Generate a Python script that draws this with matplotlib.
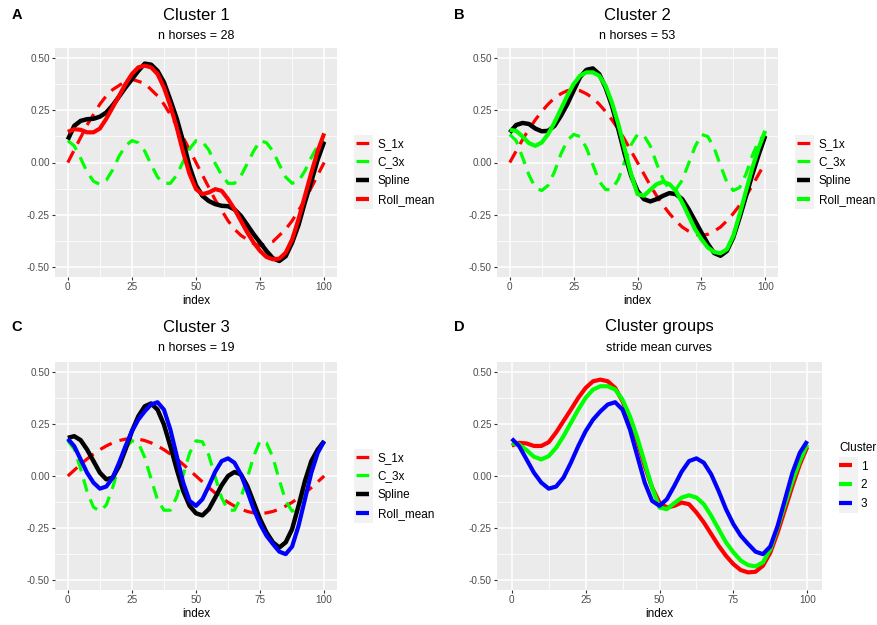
"Stride curves per cluster, 2x2 ggplot-like grid"

import numpy             as np
import matplotlib
matplotlib.use('Agg')
import matplotlib.pyplot as plt
from matplotlib.patches import Rectangle

plt.rcParams['font.family'] = ['Liberation Sans', 'DejaVu Sans']

# index positions (step 2.5)
idx = np.arange(0, 100.01, 2.5)

# ---- Cluster 1 ----
s1x_c1 = [0.00, 0.06, 0.12, 0.18, 0.23, 0.28, 0.32, 0.35, 0.37, 0.39, 0.40,
          0.39, 0.38, 0.35, 0.32, 0.28, 0.23, 0.18, 0.12, 0.06, 0.00,
          -0.06, -0.12, -0.18, -0.23, -0.28, -0.32, -0.35, -0.37, -0.39, -0.40,
          -0.39, -0.38, -0.35, -0.32, -0.28, -0.23, -0.18, -0.12, -0.06, 0.00]
c3x_c1 = [0.105, 0.080, 0.020, -0.045, -0.090, -0.105, -0.085, -0.035, 0.030, 0.080, 0.105,
          0.095, 0.055, -0.010, -0.070, -0.100, -0.100, -0.060, 0.005, 0.065, 0.105,
          0.100, 0.060, -0.005, -0.060, -0.100, -0.100, -0.065, -0.005, 0.055, 0.105,
          0.095, 0.055, -0.010, -0.070, -0.100, -0.090, -0.040, 0.025, 0.080, 0.105]
spline_c1 = [0.11, 0.176, 0.20, 0.208, 0.21, 0.22, 0.24, 0.275, 0.317, 0.36, 0.40,
             0.44, 0.475, 0.47, 0.44, 0.385, 0.30, 0.21, 0.10, -0.02, -0.11,
             -0.16, -0.185, -0.20, -0.208, -0.21, -0.225, -0.256, -0.30, -0.345, -0.385,
             -0.425, -0.46, -0.473, -0.45, -0.385, -0.30, -0.19, -0.09, 0.015, 0.10]
roll_c1 = [0.147, 0.16, 0.157, 0.145, 0.145, 0.163, 0.21, 0.265, 0.32, 0.377, 0.425,
           0.457, 0.465, 0.457, 0.425, 0.36, 0.272, 0.168, 0.048, -0.056, -0.128,
           -0.152, -0.144, -0.128, -0.136, -0.176, -0.224, -0.28, -0.336, -0.385, -0.425,
           -0.454, -0.465, -0.462, -0.433, -0.37, -0.272, -0.16, -0.048, 0.056, 0.14]

# ---- Cluster 2 ----
s1x_c2 = [0.00, 0.055, 0.11, 0.16, 0.205, 0.245, 0.28, 0.31, 0.33, 0.345, 0.35,
          0.345, 0.33, 0.31, 0.28, 0.245, 0.205, 0.16, 0.11, 0.055, 0.00,
          -0.055, -0.11, -0.16, -0.205, -0.245, -0.28, -0.31, -0.33, -0.345, -0.35,
          -0.345, -0.33, -0.31, -0.28, -0.245, -0.205, -0.16, -0.11, -0.055, 0.00]
c3x_c2 = [0.135, 0.105, 0.025, -0.060, -0.120, -0.135, -0.110, -0.045, 0.040, 0.105, 0.135,
          0.125, 0.070, -0.010, -0.090, -0.130, -0.130, -0.080, 0.005, 0.085, 0.135,
          0.130, 0.080, -0.005, -0.080, -0.130, -0.130, -0.085, -0.005, 0.075, 0.135,
          0.125, 0.070, -0.015, -0.095, -0.135, -0.120, -0.055, 0.035, 0.105, 0.135]
spline_c2 = [0.144, 0.18, 0.19, 0.185, 0.163, 0.15, 0.152, 0.176, 0.224, 0.28, 0.345,
             0.41, 0.445, 0.452, 0.425, 0.36, 0.272, 0.16, 0.04, -0.064, -0.136,
             -0.176, -0.187, -0.176, -0.16, -0.147, -0.152, -0.176, -0.224, -0.28, -0.336,
             -0.39, -0.435, -0.448, -0.425, -0.36, -0.264, -0.16, -0.056, 0.04, 0.128]
roll_c2 = [0.157, 0.152, 0.125, 0.093, 0.08, 0.096, 0.136, 0.192, 0.256, 0.32, 0.377,
           0.417, 0.433, 0.433, 0.417, 0.368, 0.288, 0.184, 0.064, -0.056, -0.152,
           -0.16, -0.131, -0.104, -0.093, -0.104, -0.136, -0.192, -0.256, -0.32, -0.368,
           -0.408, -0.43, -0.436, -0.417, -0.353, -0.248, -0.136, -0.024, 0.072, 0.152]

# ---- Cluster 3 ----
s1x_c3 = [0.00, 0.028, 0.056, 0.082, 0.106, 0.127, 0.145, 0.16, 0.171, 0.178, 0.18,
          0.178, 0.171, 0.16, 0.145, 0.127, 0.106, 0.082, 0.056, 0.028, 0.00,
          -0.028, -0.056, -0.082, -0.106, -0.127, -0.145, -0.16, -0.171, -0.178, -0.18,
          -0.178, -0.171, -0.16, -0.145, -0.127, -0.106, -0.082, -0.056, -0.028, 0.00]
c3x_c3 = [0.170, 0.130, 0.035, -0.075, -0.150, -0.170, -0.140, -0.055, 0.050, 0.135, 0.170,
          0.160, 0.090, -0.015, -0.115, -0.165, -0.165, -0.100, 0.005, 0.110, 0.170,
          0.165, 0.100, -0.005, -0.105, -0.165, -0.165, -0.105, -0.010, 0.095, 0.170,
          0.160, 0.090, -0.020, -0.120, -0.170, -0.150, -0.070, 0.045, 0.135, 0.170]
spline_c3 = [0.184, 0.192, 0.173, 0.128, 0.072, 0.016, -0.016, -0.008, 0.048, 0.128, 0.216,
             0.288, 0.336, 0.35, 0.32, 0.248, 0.144, 0.032, -0.072, -0.144, -0.18,
             -0.19, -0.16, -0.104, -0.045, 0.0, 0.019, 0.008, -0.048, -0.128, -0.208,
             -0.272, -0.32, -0.345, -0.32, -0.256, -0.144, -0.024, 0.072, 0.128, 0.168]
roll_c3 = [0.18, 0.144, 0.08, 0.016, -0.032, -0.061, -0.051, -0.008, 0.064, 0.144, 0.216,
           0.272, 0.312, 0.345, 0.356, 0.32, 0.224, 0.096, -0.032, -0.12, -0.144,
           -0.112, -0.048, 0.021, 0.072, 0.085, 0.064, 0.008, -0.072, -0.16, -0.232,
           -0.288, -0.328, -0.365, -0.377, -0.34, -0.24, -0.112, 0.016, 0.112, 0.168]

n_horses = [28, 53, 19]
roll_colors = ['#FF0000', '#00FF00', '#0000FF']
cluster_ids = ['1', '2', '3']

W, H = 877, 625
BG = '#EBEBEB'


def px_axes(fig, left, top, right, bottom):
    """axes placed in pixel coords (origin top-left)"""
    return fig.add_axes([left / W, 1 - bottom / H, (right - left) / W, (bottom - top) / H])


def style_axes(ax):
    ax.set_facecolor(BG)
    for sp in ax.spines.values():
        sp.set_visible(False)
    ax.set_xlim(-5, 105)
    ax.set_ylim(-0.55, 0.55)
    ax.set_xticks([0, 25, 50, 75, 100])
    ax.set_xticklabels(['0', '25', '50', '75', '100'])
    ax.set_yticks([-0.5, -0.25, 0, 0.25, 0.5])
    ax.set_yticklabels(['-0.50', '-0.25', '0.00', '0.25', '0.50'])
    ax.set_xticks([12.5, 37.5, 62.5, 87.5], minor=True)
    ax.set_yticks([-0.375, -0.125, 0.125, 0.375], minor=True)
    ax.grid(which='major', color='white', linewidth=1.1)
    ax.grid(which='minor', color='white', linewidth=0.55)
    ax.set_axisbelow(True)
    ax.tick_params(which='major', length=2.2, width=0.8, color='#333333',
                   labelsize=7.2, labelcolor='#4D4D4D', pad=1.5)
    ax.tick_params(which='minor', length=0)
    ax.set_xlabel('index', fontsize=8.5, labelpad=2)


def add_titles(fig, cx, ty, title, sub, letter, lx):
    fig.text(cx / W, 1 - ty / H, title, ha='center', va='center', fontsize=12)
    fig.text(cx / W, 1 - (ty + 21) / H, sub, ha='center', va='center', fontsize=9)
    fig.text(lx / W, 1 - ty / H, letter, ha='center', va='center', fontsize=10.5,
             fontweight='bold')


def key_box(fig, x0, y0, x1, y1):
    fig.add_artist(Rectangle((x0 / W, 1 - y1 / H), (x1 - x0) / W, (y1 - y0) / H,
                             transform=fig.transFigure, facecolor='#F2F2F2',
                             edgecolor='none', zorder=0))


def cluster_panel(fig, box, series, roll_col, legend_xy):
    ax = px_axes(fig, *box)
    style_axes(ax)
    s1x, c3x, spl, roll = series
    ax.plot(idx, s1x, color='#FF0000', lw=2.3, dashes=(4, 2.6), label='S_1x')
    ax.plot(idx, c3x, color='#00FF00', lw=2.3, dashes=(4, 2.6), label='C_3x')
    ax.plot(idx, spl, color='black', lw=3.2, label='Spline', solid_capstyle='butt')
    ax.plot(idx, roll, color=roll_col, lw=3.0, label='Roll_mean', solid_capstyle='butt')
    lx, ly = legend_xy
    key_box(fig, lx - 2, ly - 37, lx + 17, ly + 37)
    ax.legend(loc='center left', bbox_to_anchor=(lx / W, 1 - ly / H),
              bbox_transform=fig.transFigure, frameon=False, fontsize=8.5,
              handlelength=1.1, handletextpad=0.75, labelspacing=0.58,
              borderpad=0, borderaxespad=0)
    return ax


def main():
    fig = plt.figure(figsize=(W / 100, H / 100), dpi=100)

    cluster_panel(fig, (55, 48, 337, 277), (s1x_c1, c3x_c1, spline_c1, roll_c1),
                  roll_colors[0], (356, 172))
    add_titles(fig, 196, 15, 'Cluster 1', f'n horses = {n_horses[0]}', 'A', 17)

    cluster_panel(fig, (497, 48, 778, 277), (s1x_c2, c3x_c2, spline_c2, roll_c2),
                  roll_colors[1], (797, 172))
    add_titles(fig, 637, 15, 'Cluster 2', f'n horses = {n_horses[1]}', 'B', 459)

    cluster_panel(fig, (55, 362, 337, 590), (s1x_c3, c3x_c3, spline_c3, roll_c3),
                  roll_colors[2], (356, 486))
    add_titles(fig, 196, 327, 'Cluster 3', f'n horses = {n_horses[2]}', 'C', 17)

    # panel D: roll means of all clusters
    ax = px_axes(fig, 497, 362, 822, 590)
    style_axes(ax)
    for cid, roll, col in zip(cluster_ids, [roll_c1, roll_c2, roll_c3], roll_colors):
        ax.plot(idx, roll, color=col, lw=3.0, label=cid, solid_capstyle='butt')
    key_box(fig, 839, 457, 858, 513)
    ax.legend(loc='center left', bbox_to_anchor=(839 / W, 1 - 476 / H),
              bbox_transform=fig.transFigure, frameon=False, fontsize=8.5,
              title='Cluster', title_fontsize=8.5, alignment='left',
              handlelength=1.1, handletextpad=0.75, labelspacing=0.58,
              borderpad=0, borderaxespad=0)
    add_titles(fig, 659, 327, 'Cluster groups', 'stride mean curves', 'D', 459)

    fig.savefig('out.png', dpi=100)


if __name__ == "__main__":
    main()
